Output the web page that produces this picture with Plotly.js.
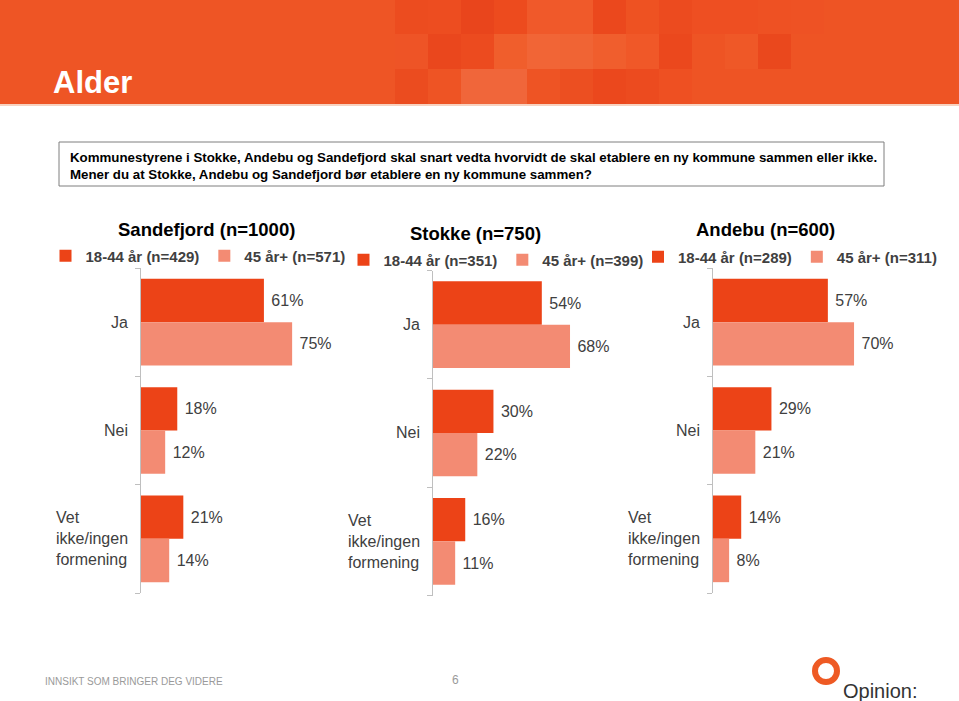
<!DOCTYPE html>
<html>
<head>
<meta charset="utf-8">
<script src="https://cdn.plot.ly/plotly-3.0.1.min.js"></script>
<style>html,body{margin:0;padding:0;background:#fff;}#chart{width:959px;height:701px;}</style>
</head>
<body>
<div id="chart"></div>
<script>
// ---- data ----
var categories = ['Ja', 'Nei', 'Vet ikke/ingen formening'];
var categoryLabels = ['Ja', 'Nei', 'Vet<br>ikke/ingen<br>formening'];
var panelTitles = ['Sandefjord (n=1000)', 'Stokke (n=750)', 'Andebu (n=600)'];
var youngNames = ['18-44 år (n=429)', '18-44 år (n=351)', '18-44 år (n=289)'];
var oldNames = ['45 år+ (n=571)', '45 år+ (n=399)', '45 år+ (n=311)'];
var sandefjordYoung = [61, 18, 21];
var sandefjordOld = [75, 12, 14];
var stokkeYoung = [54, 30, 16];
var stokkeOld = [68, 22, 11];
var andebuYoung = [57, 29, 14];
var andebuOld = [70, 21, 8];
var slideTitle = 'Alder';
var questionText = 'Kommunestyrene i Stokke, Andebu og Sandefjord skal snart vedta hvorvidt de skal etablere en ny kommune sammen eller ikke.<br>Mener du at Stokke, Andebu og Sandefjord bør etablere en ny kommune sammen?';
var footerText = 'INNSIKT SOM BRINGER DEG VIDERE';
var pageNumber = '6';
var logoText = 'Opinion:';

// ---- layout helpers ----
var W = 959, H = 701;
function X(px) { return px / W; }
function Y(py) { return 1 - py / H; }

var DARK = '#EC4317';
var LIGHT = '#F38B73';
var young = [sandefjordYoung, stokkeYoung, andebuYoung];
var old = [sandefjordOld, stokkeOld, andebuOld];

// panel geometry (pixels)
var axisLeft = [141, 433, 713];
var plotTop = [268, 270.5, 268];
var plotBottom = [593, 595.5, 593];
var titlePos = [[206, 229], [475, 233], [765, 230]];
var legendPos = [[198, 256], [496, 260], [790, 257]];
var pxPerPct = 2.015;
var xMax = 90;

var data = [];
var layout = {
  width: W, height: H,
  margin: {l: 0, r: 0, t: 0, b: 0},
  paper_bgcolor: '#ffffff',
  plot_bgcolor: 'rgba(0,0,0,0)',
  barmode: 'group',
  bargap: 0.2,
  bargroupgap: 0,
  showlegend: true,
  font: {family: 'Arial, "Liberation Sans", sans-serif', color: '#404040'},
  shapes: [],
  annotations: []
};

for (var i = 0; i < 3; i++) {
  var sfx = i === 0 ? '' : String(i + 1);
  var xa = 'x' + sfx, ya = 'y' + sfx, lg = 'legend' + sfx;
  [[young[i], youngNames[i], DARK], [old[i], oldNames[i], LIGHT]].forEach(function (s) {
    data.push({
      type: 'bar', orientation: 'h',
      x: s[0], y: categories, name: s[1],
      marker: {color: s[2], line: {width: 0}},
      texttemplate: '\u00a0%{x}%', textposition: 'outside',
      textfont: {family: 'Arial, "Liberation Sans", sans-serif', size: 16, color: '#404040'},
      cliponaxis: false, hoverinfo: 'skip',
      xaxis: xa, yaxis: ya, legend: lg
    });
  });
  layout['xaxis' + sfx] = {
    domain: [X(axisLeft[i]), X(axisLeft[i] + xMax * pxPerPct)],
    range: [0, xMax], visible: false, fixedrange: true, anchor: ya
  };
  layout['yaxis' + sfx] = {
    domain: [Y(plotBottom[i]), Y(plotTop[i])],
    type: 'category', categoryorder: 'array', categoryarray: categories,
    range: [2.5, -0.5], anchor: xa,
    showline: true, linecolor: '#BFBFBF', linewidth: 1,
    ticks: 'outside', ticklen: 5, tickcolor: '#BFBFBF', tickwidth: 1,
    tickmode: 'array', tickvals: [-0.5, 0.5, 1.5, 2.5],
    showticklabels: false, showgrid: false, zeroline: false, fixedrange: true
  };
  layout[lg] = {
    orientation: 'h', x: X(legendPos[i][0]), y: Y(legendPos[i][1]),
    xanchor: 'center', yanchor: 'middle', bgcolor: 'rgba(0,0,0,0)',
    font: {family: 'Arial, "Liberation Sans", sans-serif', size: 15, color: '#404040', weight: 'bold'},
    itemwidth: 30, traceorder: 'normal', tracegroupgap: 0
  };
  layout.annotations.push({
    xref: 'paper', yref: 'paper', x: X(titlePos[i][0]), y: Y(titlePos[i][1]),
    xanchor: 'center', yanchor: 'middle', showarrow: false,
    text: '<b>' + panelTitles[i] + '</b>',
    font: {family: 'Arial, "Liberation Sans", sans-serif', size: 18.5, color: '#000000'}
  });
  for (var j = 0; j < categories.length; j++) {
    layout.annotations.push({
      xref: 'paper', yref: ya, x: X(axisLeft[i] - 11), y: categories[j],
      xanchor: 'right', yanchor: 'middle', align: 'left', showarrow: false,
      text: categoryLabels[j],
      font: {family: 'Arial, "Liberation Sans", sans-serif', size: 16, color: '#404040'}
    });
  }
}

// ---- slide decoration ----
function rect(x0, y0, x1, y1, fill, line) {
  return {type: 'rect', xref: 'paper', yref: 'paper', layer: 'below',
    x0: X(x0), x1: X(x1), y0: Y(y1), y1: Y(y0),
    fillcolor: fill, line: line || {width: 0}};
}
layout.shapes.push(rect(0, 0, W, 104, '#EE5525'));
var tileColors = [
  ['#EC4C1F', '#ED4D20', '#E9451C', '#ED4B1E', '#F0592A', '#F05A2A', '#EB481D', '#EE5222', '#EC4B1F', '#EE4F22', '#EE4F22', '#EE5123', '#EE5224', '#EE5424', '#EE5424', '#EE5424', '#EE5424'],
  ['#EE5426', '#EA471D', '#EC4B1F', '#F05E2C', '#F16536', '#F06434', '#F05E2D', '#F05828', '#EB481D', '#EE5424', '#EF5827', '#EA481D', '#EE5424', '#EE5424', '#EE5424', '#EE5424', '#EE5424'],
  ['#EB4C1F', '#EE5424', '#F0663A', '#F0663A', '#EE5424', '#EC4F21', '#EB481D', '#EC4B1F', '#EE5022', '#EE5424', '#EE5424', '#EE5424', '#EE5424', '#EE5424', '#EE5424', '#EE5424', '#EE5424']
];
var rowsY = [0, 34, 69, 104];
for (var r = 0; r < tileColors.length; r++) {
  for (var c = 0; c < tileColors[r].length; c++) {
    var tx = 395 + c * 33;
    layout.shapes.push(rect(tx, rowsY[r], Math.min(tx + 33, W), rowsY[r + 1], tileColors[r][c]));
  }
}
layout.shapes.push(rect(0, 104, W, 106, '#F7D2C0'));
layout.shapes.push(rect(59, 142, 884, 186, '#ffffff', {color: '#7F7F7F', width: 1}));
layout.shapes.push({type: 'circle', xref: 'paper', yref: 'paper', layer: 'above',
  x0: X(815), x1: X(837), y0: Y(682), y1: Y(660),
  fillcolor: 'rgba(0,0,0,0)', line: {color: '#EE5A24', width: 6}});

layout.annotations.push({
  xref: 'paper', yref: 'paper', x: X(51), y: Y(82), xanchor: 'left', yanchor: 'middle',
  showarrow: false, text: '<b>' + slideTitle + '</b>',
  font: {family: 'Arial, "Liberation Sans", sans-serif', size: 31, color: '#ffffff'}
});
layout.annotations.push({
  xref: 'paper', yref: 'paper', x: X(68), y: Y(165.5), xanchor: 'left', yanchor: 'middle',
  align: 'left', showarrow: false, text: '<b>' + questionText + '</b>',
  font: {family: 'Arial, "Liberation Sans", sans-serif', size: 13.3, color: '#000000'}
});
layout.annotations.push({
  xref: 'paper', yref: 'paper', x: X(43), y: Y(681), xanchor: 'left', yanchor: 'middle',
  showarrow: false, text: footerText,
  font: {family: 'Arial, "Liberation Sans", sans-serif', size: 10, color: '#9A9A9A'}
});
layout.annotations.push({
  xref: 'paper', yref: 'paper', x: X(455), y: Y(680), xanchor: 'center', yanchor: 'middle',
  showarrow: false, text: pageNumber,
  font: {family: 'Arial, "Liberation Sans", sans-serif', size: 12, color: '#9A9A9A'}
});
layout.annotations.push({
  xref: 'paper', yref: 'paper', x: X(841), y: Y(691), xanchor: 'left', yanchor: 'middle',
  showarrow: false, text: logoText,
  font: {family: 'Arial, "Liberation Sans", sans-serif', size: 20, color: '#333333'}
});

Plotly.newPlot('chart', data, layout, {displayModeBar: false, staticPlot: true});
</script>
</body>
</html>
